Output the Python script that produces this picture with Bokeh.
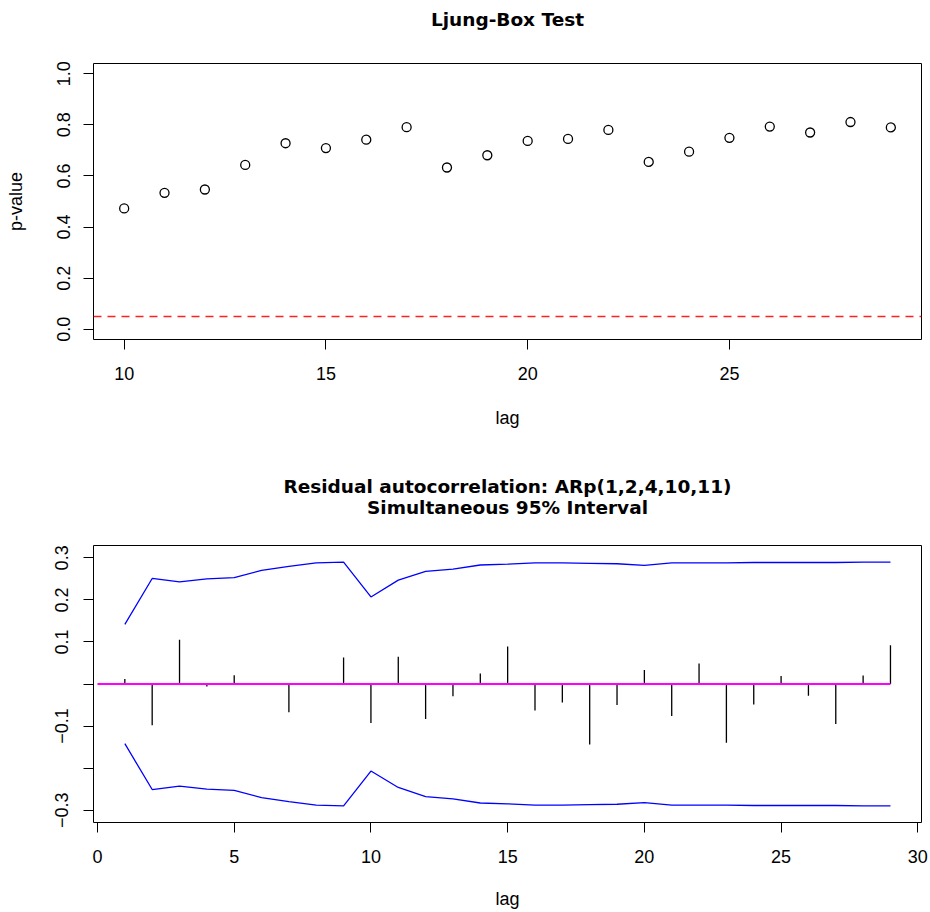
from bokeh.plotting import figure
from bokeh.layouts import column
from bokeh.models import Range1d, FixedTicker, Span, PrintfTickFormatter, LinearAxis
from bokeh.embed import file_html
from bokeh.resources import INLINE

# ---------------- data ----------------
lb_lags = list(range(10, 30))
lb_pvalues = [0.473, 0.534, 0.547, 0.643, 0.728, 0.709, 0.742, 0.791, 0.633, 0.681,
              0.737, 0.745, 0.780, 0.655, 0.695, 0.749, 0.793, 0.770, 0.811, 0.790]
sig_level = 0.05

acf_lags = list(range(1, 30))
acf_values = [0.012, -0.098, 0.105, -0.006, 0.021, 0.001, -0.067, 0.001, 0.063, -0.093,
              0.065, -0.083, -0.029, 0.025, 0.089, -0.063, -0.044, -0.144, -0.050, 0.033,
              -0.076, 0.049, -0.140, -0.049, 0.019, -0.028, -0.095, 0.020, 0.092]
band_upper = [0.142, 0.251, 0.243, 0.250, 0.253, 0.270, 0.280, 0.288, 0.290, 0.207,
              0.247, 0.268, 0.273, 0.283, 0.285, 0.288, 0.288, 0.287, 0.286, 0.282,
              0.288, 0.288, 0.288, 0.289, 0.289, 0.289, 0.289, 0.290, 0.290]
band_lower = [-0.142, -0.251, -0.243, -0.250, -0.253, -0.270, -0.280, -0.288, -0.290, -0.207,
              -0.246, -0.268, -0.273, -0.283, -0.285, -0.288, -0.288, -0.287, -0.286, -0.282,
              -0.288, -0.288, -0.288, -0.289, -0.289, -0.289, -0.289, -0.290, -0.290]

lb_xticks = [10, 15, 20, 25]
lb_yticks = [0.0, 0.2, 0.4, 0.6, 0.8, 1.0]
acf_xticks = [0, 5, 10, 15, 20, 25, 30]
acf_yticks_labelled = [-0.3, -0.1, 0.1, 0.2, 0.3]
acf_ytick_labels = ["\u22120.3", "\u22120.1", "0.1", "0.2", "0.3"]
acf_yticks_unlabelled = [-0.2, 0.0]

title_top = "Ljung-Box Test"
title_bottom_1 = "Residual autocorrelation: ARp(1,2,4,10,11)"
title_bottom_2 = "Simultaneous 95% Interval"
xlabel = "lag"
ylabel_top = "p-value"

FONT = "Liberation Sans"
TITLE_FONT = "DejaVu Sans"
TICK_SIZE = "18px"
TITLE_SIZE = "18.5px"


def style(p, ylab_standoff, xlab_standoff):
    p.xgrid.visible = False
    p.ygrid.visible = False
    p.outline_line_color = "black"
    p.outline_line_width = 1
    p.outline_line_alpha = 1
    p.background_fill_color = "white"
    p.border_fill_color = "white"
    for ax in (p.xaxis[0], p.yaxis[0]):
        ax.axis_line_color = "black"
        ax.axis_line_width = 1
        ax.major_tick_line_color = "black"
        ax.major_tick_line_width = 1
        ax.major_tick_out = 10
        ax.major_tick_in = 0
        ax.minor_tick_line_color = None
        ax.major_label_text_font = FONT
        ax.major_label_text_font_size = TICK_SIZE
        ax.major_label_text_color = "black"
        ax.axis_label_text_font = FONT
        ax.axis_label_text_font_size = TICK_SIZE
        ax.axis_label_text_font_style = "normal"
        ax.axis_label_text_color = "black"
    p.xaxis.major_label_standoff = 17
    p.xaxis.axis_label_standoff = xlab_standoff
    p.yaxis.major_label_orientation = "vertical"
    p.yaxis.major_label_standoff = ylab_standoff
    p.yaxis.axis_label_standoff = 29


def add_title(p, text, standoff):
    # a tick-less axis above the frame carries the (bold, centred) title text
    ax = LinearAxis(ticker=FixedTicker(ticks=[]), axis_label=text,
                    axis_line_color=None, major_tick_line_color=None,
                    minor_tick_line_color=None, major_tick_out=0, major_tick_in=0,
                    minor_tick_out=0, minor_tick_in=0, major_label_standoff=0,
                    major_label_text_font_size="0px",
                    axis_label_standoff=standoff,
                    axis_label_text_font=TITLE_FONT, axis_label_text_font_size=TITLE_SIZE,
                    axis_label_text_font_style="bold", axis_label_text_color="black")
    p.add_layout(ax, "above")


# ---------------- top panel: Ljung-Box ----------------
p1 = figure(width=930, height=460,
            x_range=Range1d(9.24, 29.76), y_range=Range1d(-0.04, 1.04),
            output_backend="svg", toolbar_location=None,
            min_border_left=93, min_border_right=9, min_border_top=63, min_border_bottom=121,
            x_axis_label=xlabel, y_axis_label=ylabel_top)
style(p1, 13, 25)
p1.xaxis.ticker = FixedTicker(ticks=lb_xticks)
p1.xaxis.bounds = (min(lb_xticks), max(lb_xticks))
p1.yaxis.ticker = FixedTicker(ticks=lb_yticks)
p1.yaxis.bounds = (min(lb_yticks), max(lb_yticks))
p1.yaxis.formatter = PrintfTickFormatter(format="%.1f")
add_title(p1, title_top, 34)

p1.scatter(lb_lags, lb_pvalues, marker="circle", size=9, fill_color=None,
           line_color="black", line_width=1.3)
p1.add_layout(Span(location=sig_level, dimension="width", line_color="#FF2020",
                   line_width=1.3, line_dash="8 6"))

# ---------------- bottom panel: residual ACF ----------------
p2 = figure(width=930, height=452,
            x_range=Range1d(-0.146, 30.135), y_range=Range1d(-0.3294, 0.3294),
            output_backend="svg", toolbar_location=None,
            min_border_left=93, min_border_right=9, min_border_top=85, min_border_bottom=90,
            x_axis_label=xlabel)
style(p2, 15, 23)
p2.xaxis.ticker = FixedTicker(ticks=acf_xticks)
p2.xaxis.bounds = (min(acf_xticks), max(acf_xticks))
p2.yaxis.ticker = FixedTicker(ticks=acf_yticks_labelled, minor_ticks=acf_yticks_unlabelled)
p2.yaxis.bounds = (min(acf_yticks_labelled), max(acf_yticks_labelled))
p2.yaxis.formatter = PrintfTickFormatter(format="%.1f")
p2.yaxis.major_label_overrides = dict(zip(acf_yticks_labelled, acf_ytick_labels))
p2.yaxis.minor_tick_line_color = "black"
p2.yaxis.minor_tick_line_width = 1
p2.yaxis.minor_tick_out = 10
p2.yaxis.minor_tick_in = 0
add_title(p2, title_bottom_2, 28)   # inner line (closest to the frame)
add_title(p2, title_bottom_1, -3)   # outer line

p2.segment(x0=acf_lags, y0=[0] * len(acf_lags), x1=acf_lags, y1=acf_values,
           line_color="black", line_width=1.3)
p2.line(acf_lags, band_upper, line_color="blue", line_width=1.3)
p2.line(acf_lags, band_lower, line_color="blue", line_width=1.3)
p2.line([0, max(acf_lags)], [0, 0], line_color="#FF00FF", line_width=2)

layout = column(p1, p2, spacing=0)
open("out.html", "w").write(file_html(layout, INLINE))
